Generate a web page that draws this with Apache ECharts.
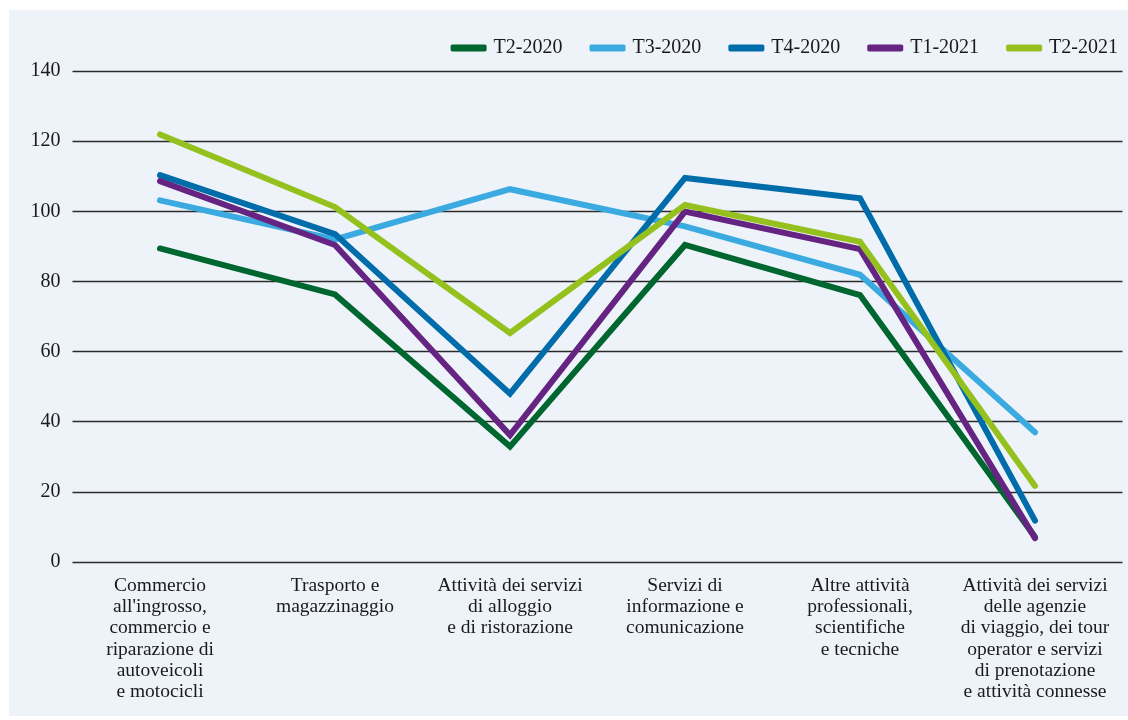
<!DOCTYPE html>
<html>
<head>
<meta charset="utf-8">
<script src="https://cdn.jsdelivr.net/npm/echarts@6/dist/echarts.min.js"></script>
<style>
html,body{margin:0;padding:0;background:#ffffff;width:1128px;height:720px;overflow:hidden;}
#chart{position:absolute;left:9px;top:10px;width:1119px;height:706px;background:#eef3f9;}
</style>
</head>
<body>
<div id="chart"></div>
<script>
const categories = [
  "Commercio\nall'ingrosso,\ncommercio e\nriparazione di\nautoveicoli\ne motocicli",
  "Trasporto e\nmagazzinaggio",
  "Attività dei servizi\ndi alloggio\ne di ristorazione",
  "Servizi di\ninformazione e\ncomunicazione",
  "Altre attività\nprofessionali,\nscientifiche\ne tecniche",
  "Attività dei servizi\ndelle agenzie\ndi viaggio, dei tour\noperator e servizi\ndi prenotazione\ne attività connesse"
];
const seriesNames = ["T2-2020", "T3-2020", "T4-2020", "T1-2021", "T2-2021"];
const t2_2020 = [89.4, 76.3, 32.9, 90.4, 76.1, 7.1];
const t3_2020 = [103.1, 92.0, 106.3, 95.7, 81.9, 37.0];
const t4_2020 = [110.3, 93.5, 48.0, 109.5, 103.7, 11.8];
const t1_2021 = [108.6, 90.4, 36.2, 99.9, 89.2, 6.8];
const t2_2021 = [121.9, 101.2, 65.3, 101.8, 91.3, 21.7];
const colors = ["#00662f", "#3aaae1", "#006ca9", "#662482", "#95c11f"];
const yTicks = {min: 0, max: 140, interval: 20};

const dataSets = [t2_2020, t3_2020, t4_2020, t1_2021, t2_2021];
const font = "'Liberation Serif', 'DejaVu Serif', serif";

const chart = echarts.init(document.getElementById('chart'), null, {renderer: 'canvas'});
chart.setOption({
  animation: false,
  backgroundColor: '#eef3f9',
  textStyle: {fontFamily: font},
  grid: {left: 63.5, right: 5.5, top: 61, bottom: 154, containLabel: false},
  legend: {
    right: 5, top: 23,
    itemWidth: 36, itemHeight: 7, itemGap: 27,
    icon: 'roundRect',
    textStyle: {fontFamily: font, fontSize: 20, color: '#1a1a1a', padding: [0, 0, 0, 2]},
    data: seriesNames.map((n, i) => ({name: n, itemStyle: {color: colors[i]}}))
  },
  xAxis: {
    type: 'category',
    data: categories,
    boundaryGap: true,
    axisLine: {show: false},
    axisTick: {show: false},
    splitLine: {show: false},
    axisLabel: {
      interval: 0, margin: 13, lineHeight: 21.3,
      fontFamily: font, fontSize: 19.5, color: '#1a1a1a', align: 'center'
    }
  },
  yAxis: {
    type: 'value',
    min: yTicks.min, max: yTicks.max, interval: yTicks.interval,
    axisLine: {show: false},
    axisTick: {show: false},
    splitLine: {show: true, lineStyle: {color: '#2a2a2a', width: 1.3}},
    axisLabel: {margin: 12, fontFamily: font, fontSize: 20, color: '#1a1a1a'}
  },
  series: dataSets.map((d, i) => ({
    name: seriesNames[i],
    type: 'line',
    data: d,
    symbol: 'none',
    color: colors[i],
    lineStyle: {width: 6, color: colors[i], cap: 'round', join: 'miter'}
  }))
});
</script>
</body>
</html>
